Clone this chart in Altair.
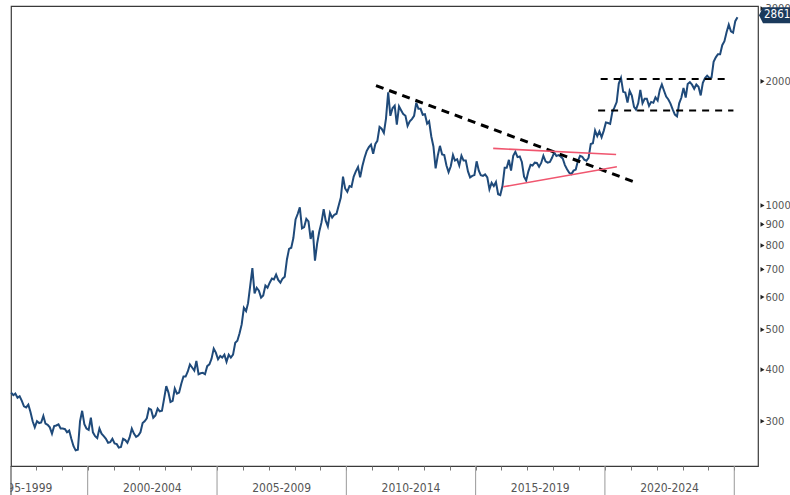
import altair as alt
import pandas as pd

# ---- monthly gold price (USD/oz) ----
p1997 = [352, 347, 350, 342, 345, 336, 326, 324, 329, 316, 300, 290]
p1998 = [300, 297, 298, 309, 296, 294, 290, 280, 292, 293, 295, 288]
p1999 = [288, 287, 282, 285, 272, 261, 255, 256, 300, 318, 295, 288]
p2000 = [286, 306, 282, 276, 273, 288, 280, 276, 272, 266, 267, 272]
p2001 = [265, 264, 259, 260, 272, 270, 266, 274, 288, 280, 275, 277]
p2002 = [282, 297, 300, 305, 322, 320, 306, 310, 322, 317, 318, 340]
p2003 = [365, 352, 334, 336, 360, 350, 352, 370, 385, 385, 396, 412]
p2004 = [405, 398, 420, 390, 392, 393, 390, 408, 412, 425, 450, 440]
p2005 = [424, 432, 428, 435, 418, 435, 428, 435, 465, 470, 490, 515]
p2006 = [565, 555, 580, 640, 705, 612, 632, 622, 598, 605, 640, 632]
p2007 = [650, 665, 662, 680, 660, 650, 665, 672, 740, 785, 790, 834]
p2008 = [925, 955, 990, 880, 886, 928, 915, 830, 870, 735, 810, 865]
p2009 = [910, 980, 920, 890, 960, 935, 950, 955, 1000, 1045, 1175, 1100]
p2010 = [1080, 1115, 1110, 1175, 1210, 1240, 1170, 1245, 1305, 1355, 1385, 1405]
p2011 = [1335, 1410, 1435, 1550, 1535, 1500, 1625, 1880, 1650, 1720, 1745, 1570]
p2012 = [1740, 1700, 1665, 1650, 1560, 1600, 1620, 1650, 1775, 1715, 1715, 1660]
p2013 = [1665, 1580, 1600, 1470, 1390, 1230, 1320, 1395, 1330, 1325, 1250, 1205]
p2014 = [1245, 1325, 1285, 1295, 1250, 1320, 1285, 1285, 1210, 1170, 1180, 1185]
p2015 = [1280, 1215, 1185, 1180, 1190, 1170, 1095, 1135, 1115, 1140, 1065, 1060]
p2016 = [1115, 1235, 1235, 1290, 1215, 1320, 1350, 1310, 1315, 1275, 1175, 1150]
p2017 = [1210, 1255, 1250, 1270, 1268, 1242, 1268, 1320, 1280, 1270, 1275, 1305]
p2018 = [1345, 1318, 1325, 1315, 1300, 1253, 1224, 1200, 1192, 1215, 1222, 1282]
p2019 = [1320, 1313, 1292, 1284, 1305, 1410, 1415, 1520, 1472, 1512, 1464, 1517]
p2020 = [1589, 1585, 1577, 1686, 1730, 1781, 1975, 2040, 1886, 1879, 1777, 1898]
p2021 = [1848, 1734, 1708, 1769, 1906, 1770, 1814, 1814, 1743, 1783, 1774, 1829]
p2022 = [1797, 1909, 1965, 1897, 1837, 1807, 1766, 1711, 1661, 1645, 1769, 1824]
p2023 = [1928, 1827, 1969, 1990, 1963, 1919, 1965, 1940, 1849, 1983, 2036, 2063]
p2024 = [2039, 2044, 2230, 2286, 2327, 2326, 2447, 2503, 2634, 2744, 2643, 2625]
p2025 = [2798, 2861]

years = list(range(1997, 2026))
yearly = [p1997, p1998, p1999, p2000, p2001, p2002, p2003, p2004, p2005, p2006,
          p2007, p2008, p2009, p2010, p2011, p2012, p2013, p2014, p2015, p2016,
          p2017, p2018, p2019, p2020, p2021, p2022, p2023, p2024, p2025]

# ---- annotation lines ----
trend_dates = ["2011-02-24", "2021-03-25"]
trend_vals = [1953, 1135]
pink_up_dates = ["2015-09-06", "2020-06-07"]
pink_up_vals = [1376, 1329]
pink_lo_dates = ["2016-01-26", "2020-06-18"]
pink_lo_vals = [1110, 1241]
hi_band_dates = ["2019-11-02", "2024-09-16"]
hi_band_vals = [2027, 2027]
lo_band_dates = ["2019-09-27", "2024-12-20"]
lo_band_vals = [1699, 1699]

y_ticks = [300, 400, 500, 600, 700, 800, 900, 1000, 2000, 3000]
period_labels = ["1995-1999", "2000-2004", "2005-2009", "2010-2014", "2015-2019", "2020-2024"]
period_mids = ["1997-07-02", "2002-07-02", "2007-07-02", "2012-07-02", "2017-07-02", "2022-07-02"]
period_bounds = ["2000-01-01", "2005-01-01", "2010-01-01", "2015-01-01", "2020-01-01", "2025-01-01"]
last_value = 2861
last_label = "2861."

dates, prices = [], []
for y, lst in zip(years, yearly):
    for m, v in enumerate(lst, start=1):
        dates.append(f"{y}-{m:02d}-15")
        prices.append(v)
df = pd.DataFrame({"date": dates, "price": prices})

W, H = 747, 460
FONT = "Liberation Sans Narrow, DejaVu Sans Condensed, Liberation Sans, sans-serif"

xscale = alt.Scale(domain=[alt.DateTime(year=1997, month=1, date=13),
                           alt.DateTime(year=2025, month=12, date=2)])
yscale = alt.Scale(type="log", domain=[233.7, 3045], nice=False)

x_axis = alt.Axis(values=[alt.DateTime(year=y, month=1, date=1) for y in range(1998, 2026)],
                  labels=False, ticks=True, tickSize=4, tickColor="#777",
                  domain=False, grid=False, title=None)
y_axis = alt.Axis(orient="right", values=y_ticks, format="d", ticks=False, domain=False,
                  grid=False, labelPadding=7, labelFont=FONT, labelFontSize=11,
                  labelColor="#555", title=None, labelOverlap=False)


def X(field="date:T"):
    return alt.X(field, scale=xscale, axis=x_axis)


def Y(field):
    return alt.Y(field, scale=yscale, axis=y_axis)


price = alt.Chart(df).mark_line(color="#1f4a7a", strokeWidth=2).encode(
    x=X(), y=Y("price:Q"))


def seg(dts, vals, name):
    return pd.DataFrame({"date": dts, "v": vals, "seg": name})


black_thick = alt.Chart(seg(trend_dates, trend_vals, "trend")).mark_line(
    color="black", strokeWidth=3, strokeDash=[8, 6]).encode(x=X(), y=Y("v:Q"))

bands = pd.concat([seg(hi_band_dates, hi_band_vals, "hi"), seg(lo_band_dates, lo_band_vals, "lo")])
black_thin = alt.Chart(bands).mark_line(
    color="black", strokeWidth=2, strokeDash=[7, 6]).encode(
    x=X(), y=Y("v:Q"), detail="seg:N")

pinks = pd.concat([seg(pink_up_dates, pink_up_vals, "up"), seg(pink_lo_dates, pink_lo_vals, "lo")])
pink = alt.Chart(pinks).mark_line(color="#f0566f", strokeWidth=1.6).encode(
    x=X(), y=Y("v:Q"), detail="seg:N")

tri = alt.Chart(pd.DataFrame({"v": y_ticks})).mark_point(
    shape="triangle-right", filled=True, size=22, color="#222", opacity=1).encode(
    x=alt.value(W + 4.5), y=Y("v:Q"))

lastdf = pd.DataFrame({"v": [last_value], "t": [last_label]})
box = alt.Chart(lastdf).mark_point(
    shape="M-1,0 L-0.75,-0.5 L1,-0.5 L1,0.5 L-0.75,0.5 Z",
    filled=True, size=1024, color="#1b3a5c", opacity=1, yOffset=-2).encode(
    x=alt.value(W + 17), y=Y("v:Q"))
box_txt = alt.Chart(lastdf).mark_text(
    align="left", baseline="middle", color="white", font=FONT, fontSize=11.5,
    yOffset=-2).encode(
    x=alt.value(W + 6), y=Y("v:Q"), text="t:N")

pdf = pd.DataFrame({"date": period_mids, "t": period_labels})
plabels = alt.Chart(pdf).mark_text(
    align="center", baseline="middle", color="#555", font=FONT, fontSize=12).encode(
    x=X(), y=alt.value(H + 22), text="t:N")

cover = alt.Chart(pd.DataFrame({"a": [0]})).mark_rect(color="white").encode(
    x=alt.value(-11), x2=alt.value(-0.5), y=alt.value(H + 1), y2=alt.value(H + 29))

seps = alt.Chart(pd.DataFrame({"date": period_bounds})).mark_rule(
    color="#999", strokeWidth=1).encode(
    x=X(), y=alt.value(H), y2=alt.value(H + 29))

left_edge = alt.Chart(pd.DataFrame({"a": [0]})).mark_rule(
    color="#555", strokeWidth=1.2).encode(
    x=alt.value(0), y=alt.value(H), y2=alt.value(H + 29))

chart = alt.layer(
    price, black_thick, black_thin, pink, tri, box, box_txt,
    plabels, cover, seps, left_edge
).properties(
    width=W, height=H,
    padding={"left": 11, "top": 6, "right": 32, "bottom": 29},
    autosize=alt.AutoSizeParams(type="none"),
    background="white",
).configure_view(stroke="#3a3a3a", strokeWidth=1.2)

chart.save("out.html", embed_options={"renderer": "svg", "actions": False})
